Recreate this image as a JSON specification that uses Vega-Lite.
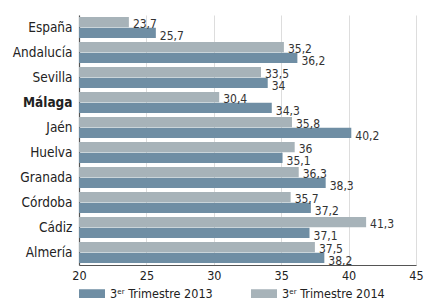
{
  "$schema": "https://vega.github.io/schema/vega-lite/v6.json",
  "autosize": {"type": "none"},
  "width": 337,
  "height": 250,
  "padding": {"left": 79, "top": 15, "right": 9, "bottom": 33},
  "config": {
    "font": "DejaVu Sans Condensed",
    "view": {"stroke": null},
    "text": {"font": "DejaVu Sans Condensed"}
  },
  "data": {
    "values": [
      {"region": "España", "serie": "3ᵉʳ Trimestre 2014", "value": 23.7, "label": "23,7"},
      {"region": "España", "serie": "3ᵉʳ Trimestre 2013", "value": 25.7, "label": "25,7"},
      {"region": "Andalucía", "serie": "3ᵉʳ Trimestre 2014", "value": 35.2, "label": "35,2"},
      {"region": "Andalucía", "serie": "3ᵉʳ Trimestre 2013", "value": 36.2, "label": "36,2"},
      {"region": "Sevilla", "serie": "3ᵉʳ Trimestre 2014", "value": 33.5, "label": "33,5"},
      {"region": "Sevilla", "serie": "3ᵉʳ Trimestre 2013", "value": 34, "label": "34"},
      {"region": "Málaga", "serie": "3ᵉʳ Trimestre 2014", "value": 30.4, "label": "30,4"},
      {"region": "Málaga", "serie": "3ᵉʳ Trimestre 2013", "value": 34.3, "label": "34,3"},
      {"region": "Jaén", "serie": "3ᵉʳ Trimestre 2014", "value": 35.8, "label": "35,8"},
      {"region": "Jaén", "serie": "3ᵉʳ Trimestre 2013", "value": 40.2, "label": "40,2"},
      {"region": "Huelva", "serie": "3ᵉʳ Trimestre 2014", "value": 36, "label": "36"},
      {"region": "Huelva", "serie": "3ᵉʳ Trimestre 2013", "value": 35.1, "label": "35,1"},
      {"region": "Granada", "serie": "3ᵉʳ Trimestre 2014", "value": 36.3, "label": "36,3"},
      {"region": "Granada", "serie": "3ᵉʳ Trimestre 2013", "value": 38.3, "label": "38,3"},
      {"region": "Córdoba", "serie": "3ᵉʳ Trimestre 2014", "value": 35.7, "label": "35,7"},
      {"region": "Córdoba", "serie": "3ᵉʳ Trimestre 2013", "value": 37.2, "label": "37,2"},
      {"region": "Cádiz", "serie": "3ᵉʳ Trimestre 2014", "value": 41.3, "label": "41,3"},
      {"region": "Cádiz", "serie": "3ᵉʳ Trimestre 2013", "value": 37.1, "label": "37,1"},
      {"region": "Almería", "serie": "3ᵉʳ Trimestre 2014", "value": 37.5, "label": "37,5"},
      {"region": "Almería", "serie": "3ᵉʳ Trimestre 2013", "value": 38.2, "label": "38,2"}
    ]
  },
  "encoding": {
    "y": {
      "field": "region",
      "type": "nominal",
      "sort": ["España", "Andalucía", "Sevilla", "Málaga", "Jaén", "Huelva", "Granada", "Córdoba", "Cádiz", "Almería"],
      "scale": {"paddingInner": 0.16, "paddingOuter": 0.08},
      "axis": {
        "title": null,
        "ticks": false,
        "domain": true,
        "domainColor": "#555555",
        "domainWidth": 1.2,
        "labelFontSize": 13.5,
        "labelColor": "#222222",
        "labelPadding": 7,
        "labelFontWeight": {"condition": {"test": "datum.value == 'Málaga'", "value": "bold"}, "value": "normal"}
      }
    },
    "yOffset": {
      "field": "serie",
      "type": "nominal",
      "sort": ["3ᵉʳ Trimestre 2014", "3ᵉʳ Trimestre 2013"],
      "scale": {"paddingInner": 0.05}
    },
    "x": {
      "field": "value",
      "type": "quantitative",
      "scale": {"domain": [20, 45], "nice": false, "zero": false},
      "axis": {
        "title": null,
        "values": [20, 25, 30, 35, 40, 45],
        "ticks": false,
        "domainColor": "#555555",
        "domainWidth": 1.2,
        "gridColor": "#dddddd",
        "labelFontSize": 12.5,
        "labelColor": "#222222",
        "labelPadding": 4,
        "labelFlush": false
      }
    }
  },
  "layer": [
    {
      "mark": {"type": "bar", "clip": true},
      "encoding": {
        "color": {
          "field": "serie",
          "type": "nominal",
          "scale": {"domain": ["3ᵉʳ Trimestre 2013", "3ᵉʳ Trimestre 2014"], "range": ["#6f8ea4", "#a7b3b9"]},
          "legend": {
            "title": null,
            "orient": "bottom",
            "direction": "horizontal",
            "offset": -1,
            "symbolType": "M-1,-0.385H1V0.385H-1Z",
            "symbolSize": 676,
            "symbolStrokeWidth": 0,
            "symbolOpacity": 1,
            "labelFontSize": 12.5,
            "labelColor": "#222222",
            "labelOffset": 5,
            "columnPadding": 38,
            "padding": 0
          }
        }
      }
    },
    {
      "transform": [{"filter": "datum.serie == '3ᵉʳ Trimestre 2014'"}],
      "mark": {"type": "text", "align": "left", "baseline": "middle", "dx": 4, "dy": 1.5, "fontSize": 12, "color": "#333333"},
      "encoding": {
        "text": {"field": "label"},
        "fontWeight": {"condition": {"test": "datum.region == 'Málaga'", "value": "bold"}, "value": "normal"}
      }
    },
    {
      "transform": [{"filter": "datum.serie == '3ᵉʳ Trimestre 2013'"}],
      "mark": {"type": "text", "align": "left", "baseline": "middle", "dx": 4, "dy": 3.5, "fontSize": 12, "color": "#333333"},
      "encoding": {
        "text": {"field": "label"},
        "fontWeight": {"condition": {"test": "datum.region == 'Málaga'", "value": "bold"}, "value": "normal"}
      }
    }
  ]
}
